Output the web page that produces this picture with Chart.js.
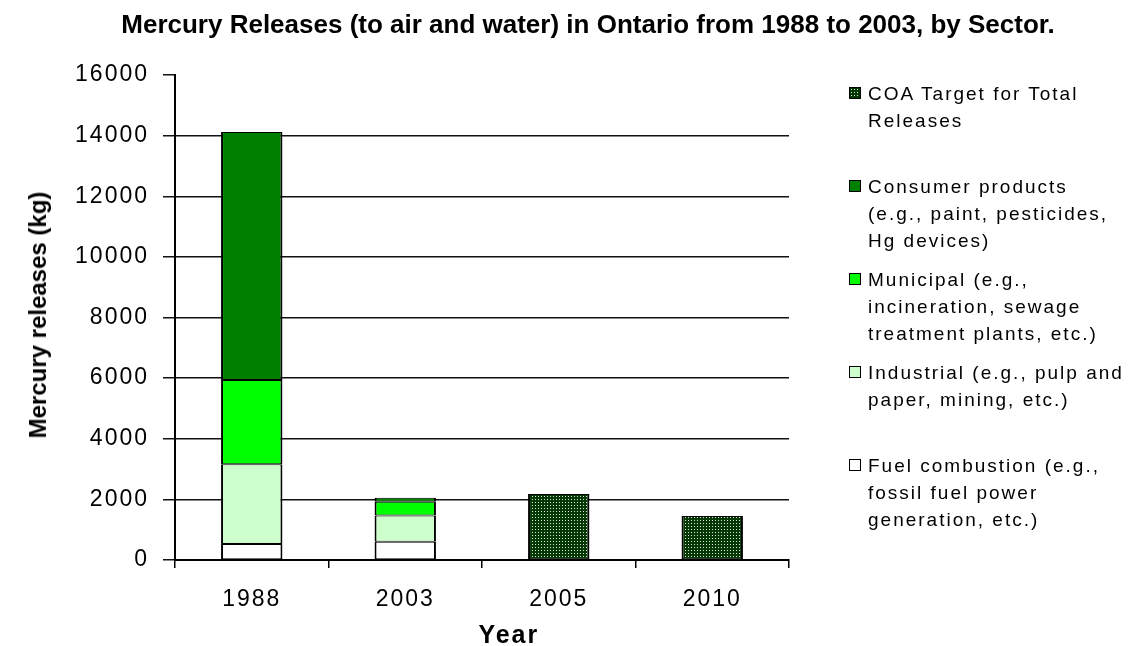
<!DOCTYPE html>
<html>
<head>
<meta charset="utf-8">
<script src="https://cdn.jsdelivr.net/npm/chart.js@4.4.1/dist/chart.umd.min.js"></script>
<style>
  html, body { margin: 0; padding: 0; background: #fff; }
  #wrap { position: relative; width: 1128px; height: 646px; overflow: hidden; font-family: "Liberation Sans", Arial, sans-serif; color: #000; }
  #chart { position: absolute; left: 0; top: 0; }
  #title { position: absolute; left: 588px; top: 9px; transform: translateX(-50%); white-space: nowrap; font-weight: bold; font-size: 26px; line-height: 30px; }
  #ytitle { position: absolute; left: 38px; top: 315px; transform: translate(-50%, -50%) rotate(-90deg); white-space: nowrap; font-weight: bold; font-size: 24px; line-height: 26px; }
  #legend { position: absolute; left: 849px; top: 0; width: 279px; height: 646px; }
  .item { position: absolute; left: 0; }
  .swatch { position: absolute; left: 0; top: 7px; width: 12px; height: 12px; box-sizing: border-box; border: 1px solid #000; }
  .label { position: absolute; left: 19px; top: 0; font-size: 19px; line-height: 27px; letter-spacing: 2px; white-space: nowrap; }
</style>
</head>
<body>
<div id="wrap">
  <canvas id="chart" width="1128" height="646"></canvas>
  <div id="title">Mercury Releases (to air and water) in Ontario from 1988 to 2003, by Sector.</div>
  <div id="ytitle">Mercury releases (kg)</div>
  <div id="legend"></div>
</div>
<script>
// data (kg)
const years = ['1988', '2003', '2005', '2010'];
const fuelCombustion = [530, 600, null, null];
const industrial = [2630, 870, null, null];
const municipal = [2780, 450, null, null];
const consumerProducts = [8180, 130, null, null];
const coaTarget = [null, null, 2180, 1450];
const yTicks = [0, 2000, 4000, 6000, 8000, 10000, 12000, 14000, 16000];

// legend text, one entry per line as in the picture
const labelFuel = ['Fuel combustion (e.g.,', 'fossil fuel power', 'generation, etc.)'];
const labelIndustrial = ['Industrial (e.g., pulp and', 'paper, mining, etc.)'];
const labelMunicipal = ['Municipal (e.g.,', 'incineration, sewage', 'treatment plants, etc.)'];
const labelConsumer = ['Consumer products', '(e.g., paint, pesticides,', 'Hg devices)'];
const labelCoa = ['COA Target for Total', 'Releases'];

// dotted fill for the target bars
const dots = document.createElement('canvas');
dots.width = 3; dots.height = 3;
const dctx = dots.getContext('2d');
dctx.fillStyle = '#063806';
dctx.fillRect(0, 0, 3, 3);
dctx.fillStyle = '#d6ecd6';
dctx.fillRect(1, 1, 1, 1);
const ctx = document.getElementById('chart');
const dotPattern = ctx.getContext('2d').createPattern(dots, 'repeat');

const edge = { top: 1, bottom: 1, left: 2, right: 2 };
const mkSet = (lines, data, fill) => ({
    label: lines.join(' '),
    data: data,
    backgroundColor: fill,
    borderColor: '#000',
    borderWidth: edge,
    borderSkipped: false,
    stack: 'all',
});

const datasets = [
    mkSet(labelFuel, fuelCombustion, '#ffffff'),
    mkSet(labelIndustrial, industrial, '#ccffcc'),
    mkSet(labelMunicipal, municipal, '#00ff00'),
    mkSet(labelConsumer, consumerProducts, '#008000'),
    mkSet(labelCoa, coaTarget, dotPattern),
];

// Excel-style spaced lettering for ticks and axis title
const spacedText = {
    id: 'spacedText',
    beforeDraw(chart) { chart.ctx.letterSpacing = '2px'; },
    afterDraw(chart) { chart.ctx.letterSpacing = '0px'; },
};

new Chart(ctx, {
    type: 'bar',
    data: { labels: years, datasets: datasets },
    plugins: [spacedText],
    options: {
        responsive: false,
        animation: false,
        barPercentage: 0.4,
        categoryPercentage: 1,
        layout: { padding: { top: 75, right: 339, left: 0, bottom: 0 } },
        plugins: { legend: { display: false }, title: { display: false }, tooltip: { enabled: false } },
        scales: {
            x: {
                stacked: true,
                ticks: { color: '#000', font: { family: 'Liberation Sans', size: 23 }, padding: 18, maxRotation: 0, autoSkip: false },
                grid: { offset: true, drawOnChartArea: false, color: '#000', lineWidth: 1.5, tickLength: 8 },
                border: { color: '#000', width: 2 },
                title: { display: true, text: '      Year', color: '#000', padding: 0,
                         font: { family: 'Liberation Sans', size: 25, weight: 'bold', lineHeight: 0.8 } },
                afterFit: s => { s.height = 86; },
            },
            y: {
                stacked: true,
                min: 0,
                max: 16000,
                afterBuildTicks: s => { s.ticks = yTicks.map(v => ({ value: v })); },
                ticks: { color: '#000', font: { family: 'Liberation Sans', size: 23 }, padding: 14, callback: v => String(v) },
                grid: {
                    color: c => (c.tick && c.tick.value === 16000) ? 'rgba(0,0,0,0)' : '#111',
                    tickColor: '#111',
                    lineWidth: 1.5,
                    tickLength: 12,
                },
                border: { color: '#000', width: 2 },
                afterFit: s => { s.width = 175; },
            },
        },
    },
});

// legend on the right, top item first
const legend = document.getElementById('legend');
const legendOrder = [4, 3, 2, 1, 0];
const legendLines = [labelFuel, labelIndustrial, labelMunicipal, labelConsumer, labelCoa];
legendOrder.forEach((di, i) => {
    const item = document.createElement('div');
    item.className = 'item';
    item.style.top = (80 + i * 93) + 'px';
    const sw = document.createElement('div');
    sw.className = 'swatch';
    if (di === 4) {
        sw.style.backgroundImage = 'url(' + dots.toDataURL() + ')';
    } else {
        sw.style.background = datasets[di].backgroundColor;
    }
    const tx = document.createElement('div');
    tx.className = 'label';
    tx.innerHTML = legendLines[di].join('<br>');
    item.appendChild(sw);
    item.appendChild(tx);
    legend.appendChild(item);
});
</script>
</body>
</html>
